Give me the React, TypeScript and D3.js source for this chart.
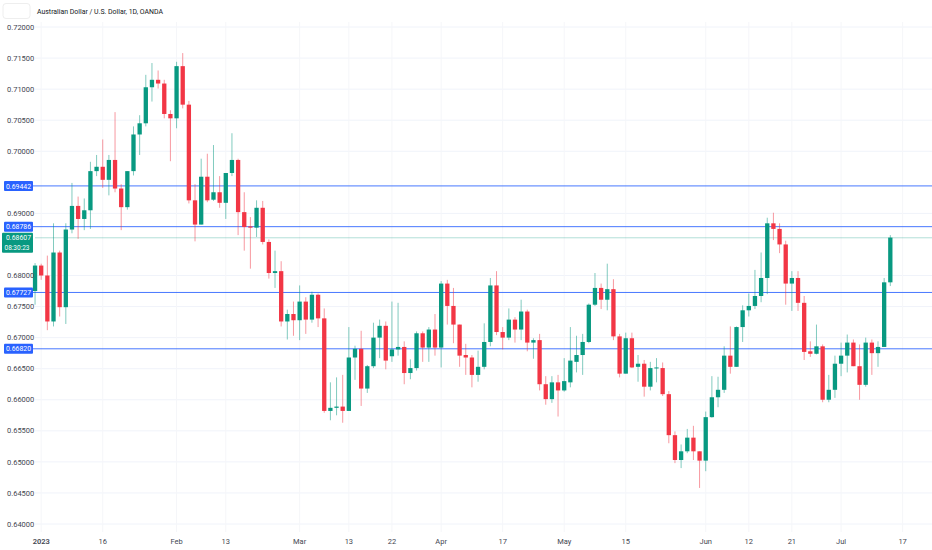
import * as React from 'react';
import * as d3 from 'd3';

// AUD/USD daily candles, OANDA, from 2022-12-30 (weekdays only)
const title = "Australian Dollar / U.S. Dollar, 1D, OANDA";
const firstDay = "2022-12-30";

const opens = [
    0.6775, 0.6816, 0.6800, 0.6726, 0.6837, 0.6749, 0.6874, 0.6912, 0.6891, 0.6905,
    0.6968, 0.6975, 0.6954, 0.6986, 0.6940, 0.6910, 0.6968, 0.7027, 0.7045, 0.7103,
    0.7115, 0.7109, 0.7060, 0.7053, 0.7137, 0.7075, 0.6921, 0.6882, 0.6959, 0.6922,
    0.6934, 0.6917, 0.6965, 0.6986, 0.6902, 0.6879, 0.6877, 0.6909, 0.6854, 0.6804,
    0.6807, 0.6726, 0.6738, 0.6728, 0.6758, 0.6729, 0.6769, 0.6731, 0.6582, 0.6587,
    0.6589, 0.6582, 0.6668, 0.6682, 0.6618, 0.6654, 0.6700, 0.6719, 0.6670, 0.6681,
    0.6685, 0.6643, 0.6651, 0.6707, 0.6684, 0.6713, 0.6684, 0.6787, 0.6751, 0.6721,
    0.6672, 0.6668, 0.6640, 0.6653, 0.6693, 0.6784, 0.6709, 0.6700, 0.6729, 0.6713,
    0.6742, 0.6692, 0.6696, 0.6625, 0.6601, 0.6628, 0.6615, 0.6628, 0.6661, 0.6672,
    0.6693, 0.6753, 0.6780, 0.6761, 0.6778, 0.6702, 0.6642, 0.6699, 0.6653, 0.6658,
    0.6621, 0.6651, 0.6651, 0.6609, 0.6543, 0.6503, 0.6517, 0.6539, 0.6517, 0.6502,
    0.6572, 0.6604, 0.6616, 0.6671, 0.6653, 0.6717, 0.6744, 0.6751, 0.6767, 0.6796,
    0.6884, 0.6875, 0.6850, 0.6787, 0.6796, 0.6756, 0.6678, 0.6674, 0.6686, 0.6600,
    0.6616, 0.6658, 0.6671, 0.6692, 0.6654, 0.6624, 0.6692, 0.6675, 0.6685, 0.6789
];
const highs = [
    0.6820, 0.6819, 0.6832, 0.6884, 0.6840, 0.6884, 0.6949, 0.6927, 0.6924, 0.6983,
    0.6994, 0.7019, 0.6994, 0.7063, 0.6947, 0.6968, 0.7040, 0.7058, 0.7123, 0.7142,
    0.7130, 0.7115, 0.7066, 0.7144, 0.7158, 0.7081, 0.6947, 0.6988, 0.6996, 0.7010,
    0.6960, 0.6965, 0.7029, 0.6988, 0.6934, 0.6894, 0.6921, 0.6920, 0.6858, 0.6840,
    0.6823, 0.6745, 0.6758, 0.6784, 0.6765, 0.6774, 0.6771, 0.6747, 0.6628, 0.6636,
    0.6640, 0.6717, 0.6687, 0.6711, 0.6656, 0.6724, 0.6729, 0.6726, 0.6758, 0.6756,
    0.6694, 0.6665, 0.6710, 0.6710, 0.6717, 0.6738, 0.6791, 0.6793, 0.6780, 0.6721,
    0.6690, 0.6672, 0.6679, 0.6723, 0.6796, 0.6807, 0.6717, 0.6747, 0.6733, 0.6761,
    0.6745, 0.6699, 0.6706, 0.6638, 0.6638, 0.6640, 0.6667, 0.6717, 0.6703, 0.6706,
    0.6755, 0.6804, 0.6787, 0.6819, 0.6794, 0.6706, 0.6708, 0.6708, 0.6672, 0.6664,
    0.6661, 0.6667, 0.6660, 0.6614, 0.6549, 0.6528, 0.6553, 0.6558, 0.6517, 0.6581,
    0.6638, 0.6637, 0.6686, 0.6718, 0.6718, 0.6752, 0.6771, 0.6809, 0.6837, 0.6893,
    0.6901, 0.6884, 0.6856, 0.6807, 0.6807, 0.6767, 0.6694, 0.6721, 0.6689, 0.6640,
    0.6671, 0.6692, 0.6705, 0.6697, 0.6689, 0.6700, 0.6697, 0.6694, 0.6796, 0.6865
];
const lows = [
    0.6753, 0.6793, 0.6712, 0.6718, 0.6734, 0.6722, 0.6868, 0.6859, 0.6873, 0.6875,
    0.6960, 0.6941, 0.6929, 0.6934, 0.6873, 0.6906, 0.6961, 0.6994, 0.7040, 0.7080,
    0.7101, 0.7053, 0.6984, 0.7037, 0.7069, 0.6916, 0.6855, 0.6882, 0.6918, 0.6920,
    0.6909, 0.6891, 0.6960, 0.6865, 0.6840, 0.6811, 0.6862, 0.6850, 0.6795, 0.6780,
    0.6718, 0.6697, 0.6703, 0.6696, 0.6706, 0.6724, 0.6717, 0.6579, 0.6567, 0.6575,
    0.6563, 0.6582, 0.6632, 0.6590, 0.6611, 0.6651, 0.6667, 0.6649, 0.6661, 0.6671,
    0.6625, 0.6633, 0.6647, 0.6661, 0.6661, 0.6671, 0.6652, 0.6721, 0.6691, 0.6653,
    0.6640, 0.6620, 0.6629, 0.6649, 0.6686, 0.6704, 0.6681, 0.6696, 0.6692, 0.6696,
    0.6678, 0.6666, 0.6615, 0.6592, 0.6595, 0.6573, 0.6613, 0.6620, 0.6644, 0.6640,
    0.6691, 0.6751, 0.6746, 0.6744, 0.6696, 0.6636, 0.6642, 0.6651, 0.6629, 0.6605,
    0.6615, 0.6628, 0.6606, 0.6530, 0.6498, 0.6490, 0.6514, 0.6503, 0.6458, 0.6485,
    0.6571, 0.6588, 0.6611, 0.6642, 0.6653, 0.6693, 0.6734, 0.6746, 0.6757, 0.6770,
    0.6857, 0.6836, 0.6753, 0.6743, 0.6743, 0.6664, 0.6669, 0.6673, 0.6596, 0.6596,
    0.6603, 0.6638, 0.6644, 0.6654, 0.6600, 0.6621, 0.6640, 0.6653, 0.6685, 0.6783
];
const closes = [
    0.6816, 0.6800, 0.6726, 0.6837, 0.6749, 0.6874, 0.6912, 0.6891, 0.6905, 0.6968,
    0.6975, 0.6954, 0.6986, 0.6940, 0.6910, 0.6968, 0.7027, 0.7045, 0.7103, 0.7115,
    0.7109, 0.7060, 0.7053, 0.7137, 0.7075, 0.6921, 0.6882, 0.6959, 0.6921, 0.6934,
    0.6917, 0.6965, 0.6986, 0.6902, 0.6878, 0.6877, 0.6909, 0.6854, 0.6804, 0.6807,
    0.6726, 0.6738, 0.6728, 0.6758, 0.6729, 0.6769, 0.6731, 0.6582, 0.6587, 0.6589,
    0.6582, 0.6668, 0.6682, 0.6618, 0.6654, 0.6700, 0.6719, 0.6663, 0.6681, 0.6685,
    0.6643, 0.6651, 0.6707, 0.6684, 0.6713, 0.6684, 0.6787, 0.6751, 0.6721, 0.6671,
    0.6668, 0.6640, 0.6653, 0.6693, 0.6784, 0.6709, 0.6700, 0.6729, 0.6713, 0.6742,
    0.6692, 0.6696, 0.6625, 0.6601, 0.6628, 0.6615, 0.6630, 0.6663, 0.6672, 0.6693,
    0.6753, 0.6780, 0.6761, 0.6778, 0.6702, 0.6642, 0.6699, 0.6652, 0.6658, 0.6621,
    0.6651, 0.6652, 0.6609, 0.6543, 0.6503, 0.6517, 0.6539, 0.6517, 0.6502, 0.6572,
    0.6604, 0.6616, 0.6671, 0.6653, 0.6717, 0.6744, 0.6751, 0.6767, 0.6796, 0.6884,
    0.6875, 0.6850, 0.6787, 0.6796, 0.6756, 0.6677, 0.6674, 0.6686, 0.6600, 0.6616,
    0.6658, 0.6671, 0.6692, 0.6654, 0.6624, 0.6692, 0.6675, 0.6685, 0.6789, 0.6861
];

const priceTicks = [0.72, 0.715, 0.71, 0.705, 0.70, 0.69, 0.68, 0.675, 0.67, 0.665, 0.66, 0.655, 0.65, 0.645, 0.64];
const timeTickDates = ["2023-01-02", "2023-01-16", "2023-02-01", "2023-02-13", "2023-03-01", "2023-03-13", "2023-03-22",
    "2023-04-03", "2023-04-17", "2023-05-01", "2023-05-15", "2023-06-01", "2023-06-12", "2023-06-21", "2023-07-03", "2023-07-17"];
const timeTickLabels = ["2023", "16", "Feb", "13", "Mar", "13", "22", "Apr", "17", "May", "15", "Jun", "12", "21", "Jul", "17"];

const levels = [0.69442, 0.68786, 0.67727, 0.66820];
const lastPrice = 0.68607;
const countdown = "08:30:23";

const width = 932;
const height = 550;
const up = "#089981";
const down = "#F23645";
const levelColor = "#2962FF";
const font = "Roboto, 'Liberation Sans', sans-serif";

const fmtDay = d3.utcFormat("%Y-%m-%d");

export default function App() {
    // weekday calendar: all bars plus a few empty future days for the axis
    let start = new Date(firstDay + "T00:00:00Z");
    let days = d3.utcDay.range(start, d3.utcDay.offset(start, 220))
        .filter(function(d) { return d.getUTCDay() % 6 !== 0; })
        .map(fmtDay)
        .slice(0, opens.length + 8);

    let step = 6.153;
    let x0 = 35.05 - step / 2;
    let xScale = d3.scaleBand()
        .domain(days)
        .range([x0, x0 + days.length * step])
        .paddingInner(0.3)
        .paddingOuter(0.15);
    let xMid = function(d) { return xScale(d) + xScale.bandwidth() / 2; };

    let yScale = d3.scaleLinear().domain([0.64, 0.72]).range([524, 27]);

    let candles = opens.map(function(o, i) {
        return { day: days[i], open: o, high: highs[i], low: lows[i], close: closes[i] };
    });

    let plotLeft = 35;

    return (
        <svg width={width} height={height} style={{ position: 'absolute', left: 0, top: 0, background: '#fff' }}
            fontFamily={font}>
            <rect x={0} y={0} width={width} height={height} fill="#ffffff" />

            {/* grid */}
            {priceTicks.map(function(p) {
                return <line key={'h' + p} x1={plotLeft} x2={width} y1={yScale(p)} y2={yScale(p)} stroke="#f0f3fa" strokeWidth={1} />;
            })}
            {timeTickDates.map(function(d) {
                return <line key={'v' + d} x1={xMid(d)} x2={xMid(d)} y1={22} y2={532} stroke="#f5f6f9" strokeWidth={1} />;
            })}

            {/* horizontal levels */}
            {levels.map(function(p) {
                return <line key={'l' + p} x1={4} x2={width} y1={yScale(p)} y2={yScale(p)} stroke={levelColor} strokeWidth={1} opacity={0.85} />;
            })}
            <line x1={plotLeft} x2={width} y1={yScale(lastPrice)} y2={yScale(lastPrice)} stroke={up} strokeWidth={1} opacity={0.3} />

            {/* candles */}
            {candles.map(function(c) {
                let color = c.close >= c.open ? up : down;
                let cx = xMid(c.day);
                let top = yScale(Math.max(c.open, c.close));
                let bottom = yScale(Math.min(c.open, c.close));
                return (
                    <g key={c.day}>
                        <line x1={cx} x2={cx} y1={yScale(c.high)} y2={yScale(c.low)} stroke={color} strokeWidth={1} opacity={0.5} />
                        <rect x={xScale(c.day)} y={top} width={xScale.bandwidth()} height={Math.max(1, bottom - top)} fill={color} />
                    </g>
                );
            })}

            {/* price axis labels (left) */}
            {priceTicks.map(function(p) {
                return <text key={'t' + p} x={7} y={yScale(p)} dy="0.35em" fontSize={7.5} fill="#434651">{p.toFixed(5)}</text>;
            })}

            {/* level labels */}
            {levels.map(function(p) {
                let y = yScale(p);
                return (
                    <g key={'lab' + p}>
                        <rect x={4} y={y - 5} width={29} height={10} rx={1} fill={levelColor} />
                        <text x={6} y={y} dy="0.35em" fontSize={7.5} fill="#ffffff" textLength={25}
                            lengthAdjust="spacingAndGlyphs">{p.toFixed(5)}</text>
                    </g>
                );
            })}
            <rect x={2} y={yScale(lastPrice) - 5} width={31} height={20} rx={1} fill={up} />
            <text x={6} y={yScale(lastPrice)} dy="0.35em" fontSize={7.5} fill="#ffffff" textLength={25}
                lengthAdjust="spacingAndGlyphs">{lastPrice.toFixed(5)}</text>
            <text x={4.5} y={yScale(lastPrice) + 10} dy="0.35em" fontSize={7.5} fill="#ffffff" textLength={25}
                lengthAdjust="spacingAndGlyphs">{countdown}</text>

            {/* time axis labels */}
            {timeTickDates.map(function(d, i) {
                return <text key={'x' + d} x={xMid(d)} y={541} dy="0.35em" textAnchor="middle" fontSize={7.5}
                    fontWeight={i === 0 ? 600 : 400} fill="#434651">{timeTickLabels[i]}</text>;
            })}

            {/* header */}
            <rect x={3} y={3.5} width={27} height={15} rx={3} fill="#ffffff" stroke="#eeeeee" strokeWidth={1} />
            <text x={37} y={14} fontSize={8} fill="#131722" textLength={126} lengthAdjust="spacingAndGlyphs">{title}</text>
        </svg>
    );
}
